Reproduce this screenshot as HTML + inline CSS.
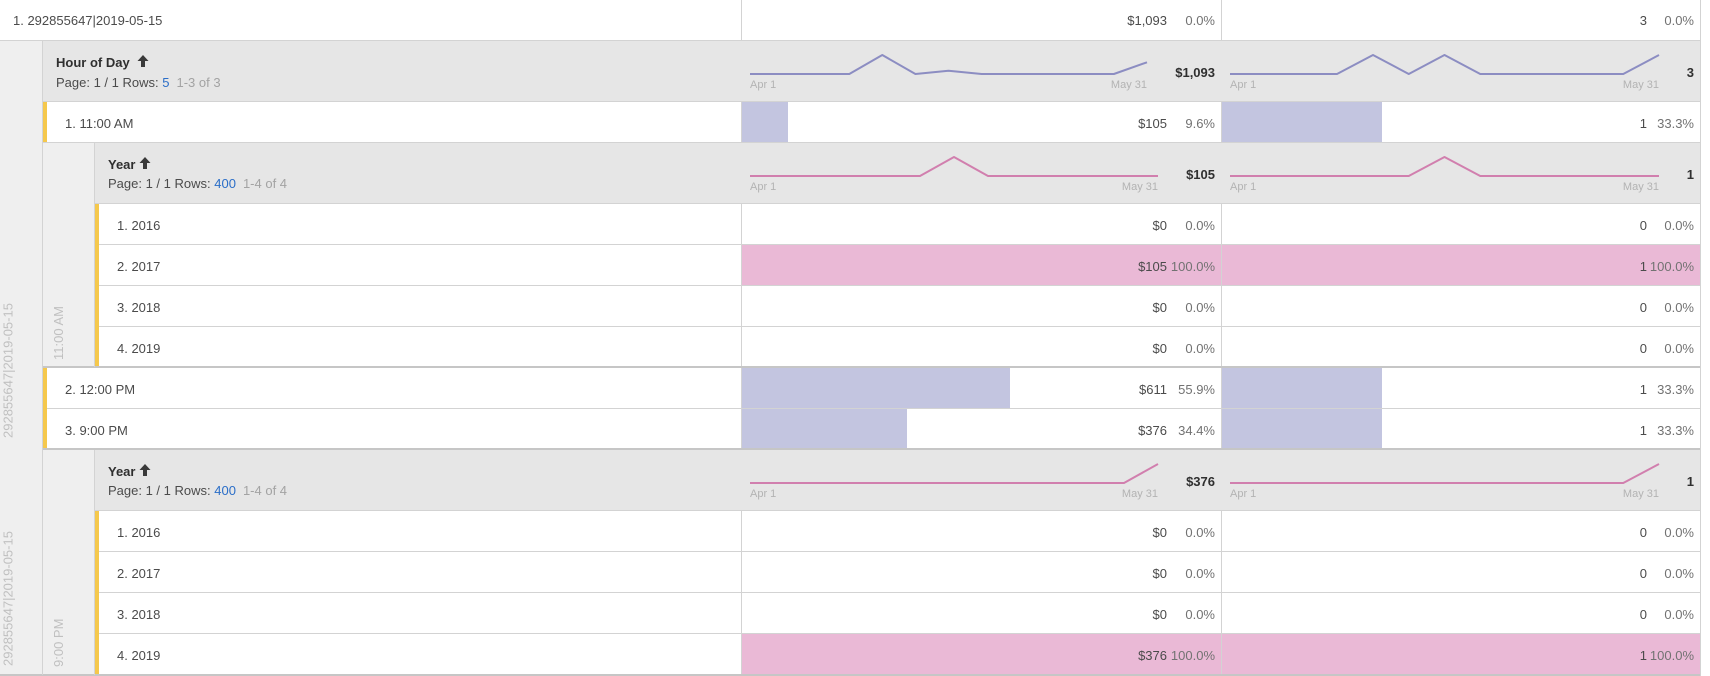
<!DOCTYPE html>
<html>
<head>
<meta charset="utf-8">
<style>
html,body{margin:0;padding:0;background:#fff;}
body{width:1710px;height:676px;overflow:hidden;}
svg{display:block;}
text{font-family:"Liberation Sans",Arial,sans-serif;}
.t{font-size:13px;fill:#4b4b4b;}
.p{font-size:13px;fill:#727272;}
.b{font-size:13px;font-weight:bold;fill:#2f2f2f;}
.d{font-size:11px;fill:#b3b3b3;}
.r{font-size:13px;fill:#c0c0c0;}
</style>
</head>
<body>
<svg width="1710" height="676" viewBox="0 0 1710 676" xmlns="http://www.w3.org/2000/svg">
<rect x="0" y="0" width="1710" height="676" fill="#fff"/>

<!-- strips -->
<rect x="0" y="41" width="42" height="634" fill="#efefef"/>
<rect x="43" y="143" width="51" height="224" fill="#efefef"/>
<rect x="43" y="450" width="51" height="225" fill="#efefef"/>

<!-- header backgrounds -->
<rect x="43" y="41" width="1657" height="60" fill="#e6e6e6"/>
<rect x="95" y="143" width="1605" height="60" fill="#e6e6e6"/>
<rect x="95" y="450" width="1605" height="60" fill="#e6e6e6"/>

<!-- bars -->
<rect x="742" y="102" width="46" height="40" fill="#c3c5e0"/>
<rect x="1222" y="102" width="160" height="40" fill="#c3c5e0"/>
<rect x="742" y="245" width="479" height="40" fill="#eab9d6"/>
<rect x="1222" y="245" width="478" height="40" fill="#eab9d6"/>
<rect x="742" y="368" width="268" height="40" fill="#c3c5e0"/>
<rect x="1222" y="368" width="160" height="40" fill="#c3c5e0"/>
<rect x="742" y="409" width="165" height="39" fill="#c3c5e0"/>
<rect x="1222" y="409" width="160" height="39" fill="#c3c5e0"/>
<rect x="742" y="634" width="479" height="40" fill="#eab9d6"/>
<rect x="1222" y="634" width="478" height="40" fill="#eab9d6"/>

<!-- horizontal borders -->
<g fill="#d3d3d3">
<rect x="0" y="40" width="1701" height="1"/>
<rect x="43" y="101" width="1658" height="1"/>
<rect x="43" y="142" width="1658" height="1"/>
<rect x="95" y="203" width="1606" height="1"/>
<rect x="95" y="244" width="1606" height="1"/>
<rect x="95" y="285" width="1606" height="1"/>
<rect x="95" y="326" width="1606" height="1"/>
<rect x="43" y="408" width="1658" height="1"/>
<rect x="95" y="510" width="1606" height="1"/>
<rect x="95" y="551" width="1606" height="1"/>
<rect x="95" y="592" width="1606" height="1"/>
<rect x="95" y="633" width="1606" height="1"/>
</g>
<g fill="#c6c6c6">
<rect x="43" y="366" width="1658" height="2"/>
<rect x="43" y="448" width="1658" height="2"/>
<rect x="0" y="674" width="1701" height="2"/>
</g>

<!-- vertical borders -->
<g fill="#d3d3d3">
<rect x="42" y="41" width="1" height="634"/>
<rect x="94" y="143" width="1" height="224"/>
<rect x="94" y="450" width="1" height="225"/>
<rect x="741" y="0" width="1" height="40"/>
<rect x="1221" y="0" width="1" height="40"/>
<rect x="741" y="102" width="1" height="40"/>
<rect x="1221" y="102" width="1" height="40"/>
<rect x="741" y="204" width="1" height="162"/>
<rect x="1221" y="204" width="1" height="162"/>
<rect x="741" y="368" width="1" height="80"/>
<rect x="1221" y="368" width="1" height="80"/>
<rect x="741" y="511" width="1" height="163"/>
<rect x="1221" y="511" width="1" height="163"/>
<rect x="1700" y="0" width="1" height="676"/>
</g>

<!-- yellow markers -->
<g fill="#f5c84c">
<rect x="43" y="102" width="4" height="40"/>
<rect x="43" y="368" width="4" height="80"/>
<rect x="95" y="204" width="4" height="162"/>
<rect x="95" y="511" width="4" height="163"/>
</g>

<!-- sparklines -->
<g fill="none" stroke-width="2" stroke-linejoin="round">
<polyline stroke="#8c8dc2" points="750,74 849.3,74 882.3,55 915.4,74 948.5,70.7 981.6,74 1113.9,74 1147,62.3"/>
<polyline stroke="#8c8dc2" points="1230,74 1337,74 1373,55 1408.75,74 1444.5,55 1480.25,74 1623.25,74 1659,55"/>
<polyline stroke="#d17fae" points="750,176 920,176 954,157 988,176 1158,176"/>
<polyline stroke="#d17fae" points="1230,176 1408.75,176 1444.5,157 1480.25,176 1659,176"/>
<polyline stroke="#d17fae" points="750,483 1124,483 1158,464"/>
<polyline stroke="#d17fae" points="1230,483 1623.25,483 1659,464"/>
</g>

<!-- sparkline date labels -->
<text class="d" x="750" y="88">Apr 1</text>
<text class="d" x="1147" y="88" text-anchor="end">May 31</text>
<text class="d" x="1230" y="88">Apr 1</text>
<text class="d" x="1659" y="88" text-anchor="end">May 31</text>
<text class="d" x="750" y="190">Apr 1</text>
<text class="d" x="1158" y="190" text-anchor="end">May 31</text>
<text class="d" x="1230" y="190">Apr 1</text>
<text class="d" x="1659" y="190" text-anchor="end">May 31</text>
<text class="d" x="750" y="497">Apr 1</text>
<text class="d" x="1158" y="497" text-anchor="end">May 31</text>
<text class="d" x="1230" y="497">Apr 1</text>
<text class="d" x="1659" y="497" text-anchor="end">May 31</text>

<!-- header totals -->
<text class="b" x="1215" y="77" text-anchor="end">$1,093</text>
<text class="b" x="1694" y="77" text-anchor="end">3</text>
<text class="b" x="1215" y="179" text-anchor="end">$105</text>
<text class="b" x="1694" y="179" text-anchor="end">1</text>
<text class="b" x="1215" y="486" text-anchor="end">$376</text>
<text class="b" x="1694" y="486" text-anchor="end">1</text>

<!-- header titles -->
<text class="b" x="56" y="67">Hour of Day</text>
<polygon fill="#3a3a3a" points="143,55 148.5,61 145,61 145,67 141,67 141,61 137.5,61"/>
<text class="t" x="56" y="87">Page: 1 / 1 Rows: <tspan fill="#2b6ec8">5</tspan><tspan fill="#a3a3a3" dx="7">1-3 of 3</tspan></text>

<text class="b" x="108" y="169">Year</text>
<polygon fill="#3a3a3a" points="145,157 150.5,163 147,163 147,169 143,169 143,163 139.5,163"/>
<text class="t" x="108" y="188">Page: 1 / 1 Rows: <tspan fill="#2b6ec8">400</tspan><tspan fill="#a3a3a3" dx="7">1-4 of 4</tspan></text>

<text class="b" x="108" y="476">Year</text>
<polygon fill="#3a3a3a" points="145,464 150.5,470 147,470 147,476 143,476 143,470 139.5,470"/>
<text class="t" x="108" y="495">Page: 1 / 1 Rows: <tspan fill="#2b6ec8">400</tspan><tspan fill="#a3a3a3" dx="7">1-4 of 4</tspan></text>

<!-- row labels -->
<text class="t" x="13" y="25">1. 292855647|2019-05-15</text>
<text class="t" x="65" y="128">1. 11:00 AM</text>
<text class="t" x="117" y="230">1. 2016</text>
<text class="t" x="117" y="271">2. 2017</text>
<text class="t" x="117" y="312">3. 2018</text>
<text class="t" x="117" y="353">4. 2019</text>
<text class="t" x="65" y="394">2. 12:00 PM</text>
<text class="t" x="65" y="435">3. 9:00 PM</text>
<text class="t" x="117" y="537">1. 2016</text>
<text class="t" x="117" y="578">2. 2017</text>
<text class="t" x="117" y="619">3. 2018</text>
<text class="t" x="117" y="660">4. 2019</text>

<!-- data values -->
<g>
<text class="t" x="1167" y="25" text-anchor="end">$1,093</text>
<text class="p" x="1215" y="25" text-anchor="end">0.0%</text>
<text class="t" x="1647" y="25" text-anchor="end">3</text>
<text class="p" x="1694" y="25" text-anchor="end">0.0%</text>

<text class="t" x="1167" y="128" text-anchor="end">$105</text>
<text class="p" x="1215" y="128" text-anchor="end">9.6%</text>
<text class="t" x="1647" y="128" text-anchor="end">1</text>
<text class="p" x="1694" y="128" text-anchor="end">33.3%</text>

<text class="t" x="1167" y="230" text-anchor="end">$0</text>
<text class="p" x="1215" y="230" text-anchor="end">0.0%</text>
<text class="t" x="1647" y="230" text-anchor="end">0</text>
<text class="p" x="1694" y="230" text-anchor="end">0.0%</text>

<text class="t" x="1167" y="271" text-anchor="end">$105</text>
<text class="p" x="1215" y="271" text-anchor="end">100.0%</text>
<text class="t" x="1647" y="271" text-anchor="end">1</text>
<text class="p" x="1694" y="271" text-anchor="end">100.0%</text>

<text class="t" x="1167" y="312" text-anchor="end">$0</text>
<text class="p" x="1215" y="312" text-anchor="end">0.0%</text>
<text class="t" x="1647" y="312" text-anchor="end">0</text>
<text class="p" x="1694" y="312" text-anchor="end">0.0%</text>

<text class="t" x="1167" y="353" text-anchor="end">$0</text>
<text class="p" x="1215" y="353" text-anchor="end">0.0%</text>
<text class="t" x="1647" y="353" text-anchor="end">0</text>
<text class="p" x="1694" y="353" text-anchor="end">0.0%</text>

<text class="t" x="1167" y="394" text-anchor="end">$611</text>
<text class="p" x="1215" y="394" text-anchor="end">55.9%</text>
<text class="t" x="1647" y="394" text-anchor="end">1</text>
<text class="p" x="1694" y="394" text-anchor="end">33.3%</text>

<text class="t" x="1167" y="435" text-anchor="end">$376</text>
<text class="p" x="1215" y="435" text-anchor="end">34.4%</text>
<text class="t" x="1647" y="435" text-anchor="end">1</text>
<text class="p" x="1694" y="435" text-anchor="end">33.3%</text>

<text class="t" x="1167" y="537" text-anchor="end">$0</text>
<text class="p" x="1215" y="537" text-anchor="end">0.0%</text>
<text class="t" x="1647" y="537" text-anchor="end">0</text>
<text class="p" x="1694" y="537" text-anchor="end">0.0%</text>

<text class="t" x="1167" y="578" text-anchor="end">$0</text>
<text class="p" x="1215" y="578" text-anchor="end">0.0%</text>
<text class="t" x="1647" y="578" text-anchor="end">0</text>
<text class="p" x="1694" y="578" text-anchor="end">0.0%</text>

<text class="t" x="1167" y="619" text-anchor="end">$0</text>
<text class="p" x="1215" y="619" text-anchor="end">0.0%</text>
<text class="t" x="1647" y="619" text-anchor="end">0</text>
<text class="p" x="1694" y="619" text-anchor="end">0.0%</text>

<text class="t" x="1167" y="660" text-anchor="end">$376</text>
<text class="p" x="1215" y="660" text-anchor="end">100.0%</text>
<text class="t" x="1647" y="660" text-anchor="end">1</text>
<text class="p" x="1694" y="660" text-anchor="end">100.0%</text>
</g>

<!-- rotated labels -->
<text class="r" transform="translate(12.5,438) rotate(-90)">292855647|2019-05-15</text>
<text class="r" transform="translate(12.5,666) rotate(-90)">292855647|2019-05-15</text>
<text class="r" transform="translate(63,360) rotate(-90)">11:00 AM</text>
<text class="r" transform="translate(63,667) rotate(-90)">9:00 PM</text>
</svg>
</body>
</html>
